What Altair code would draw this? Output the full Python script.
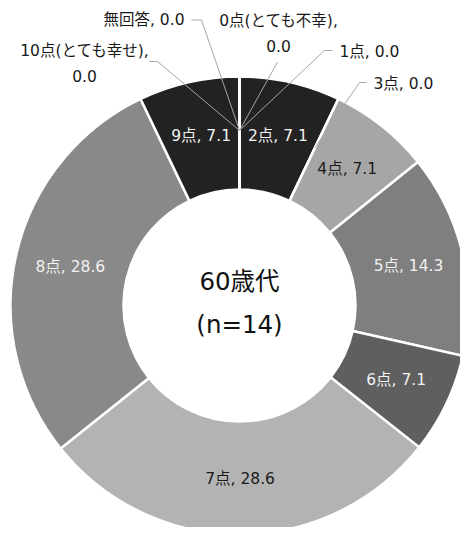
import math
import altair as alt
import pandas as pd

# ---- data ----
categories = ["0点(とても不幸)", "1点", "2点", "3点", "4点", "5点", "6点",
              "7点", "8点", "9点", "10点(とても幸せ)", "無回答"]
values = [0.0, 0.0, 7.1, 0.0, 7.1, 14.3, 7.1, 28.6, 28.6, 7.1, 0.0, 0.0]
colors = ["#262626", "#404040", "#222222", "#bfbfbf", "#a6a6a6", "#7f7f7f",
          "#5f5f5f", "#b3b3b3", "#898989", "#222222", "#404040", "#d9d9d9"]
label_colors = ["#1a1a1a", "#1a1a1a", "#f2f2f2", "#1a1a1a", "#1a1a1a", "#f2f2f2",
                "#f2f2f2", "#1a1a1a", "#f2f2f2", "#f2f2f2", "#1a1a1a", "#1a1a1a"]
center_title = "60歳代"
center_n = "(n=14)"

# ---- layout (pixel offsets from the donut centre, y up) ----
W, H = 452, 519
CX, CY = 231.5, 297.5
R_IN, R_OUT, R_LAB, R_ANCHOR = 116, 229, 173.5, 175
FONT = "'DejaVu Sans', 'Noto Sans CJK JP', sans-serif"
FS = 15.5

zero_layout = {
    "無回答": dict(elbow=(-38, 285.5), end=(-48, 285.5), text=(-55, 285.5), align="right", split=False),
    "0点(とても不幸)": dict(elbow=(38, 243.5), end=None, text=(39, 285), align="center", split=True),
    "1点": dict(elbow=(85, 255), end=(93, 255), text=(100, 254), align="left", split=False),
    "3点": dict(elbow=(120, 223), end=(127, 223), text=(134, 222), align="left", split=False),
    "10点(とても幸せ)": dict(elbow=(-82, 244), end=(-90, 244), text=(-155, 255), align="center", split=True),
}
LINE_GAP = 26

total = sum(values)
df = pd.DataFrame({"cat": categories, "value": values, "idx": range(len(categories))})

# angles (clockwise from 12 o'clock) derived from the stacked values
cum = 0.0
mids = []
for v in values:
    a0 = cum / total * 2 * math.pi
    cum += v
    a1 = cum / total * 2 * math.pi
    mids.append((a0 + a1) / 2)

inside_rows = []
for c, v, m, lc in zip(categories, values, mids, label_colors):
    if v > 0:
        inside_rows.append({"label": f"{c}, {v:.1f}", "x": R_LAB * math.sin(m),
                            "y": R_LAB * math.cos(m), "lc": lc})
inside = pd.DataFrame(inside_rows)

line_rows, text_rows = [], []
for c, v, m in zip(categories, values, mids):
    if c not in zero_layout:
        continue
    L = zero_layout[c]
    pts = [(R_ANCHOR * math.sin(m), R_ANCHOR * math.cos(m)), L["elbow"]]
    if L["end"]:
        pts.append(L["end"])
    for i, (px, py) in enumerate(pts):
        line_rows.append({"cat": c, "seq": i, "x": px, "y": py})
    tx, ty = L["text"]
    if L["split"]:
        text_rows.append({"label": f"{c},", "x": tx, "y": ty, "align": L["align"]})
        text_rows.append({"label": f"{v:.1f}", "x": tx, "y": ty - LINE_GAP, "align": L["align"]})
    else:
        text_rows.append({"label": f"{c}, {v:.1f}", "x": tx, "y": ty, "align": L["align"]})
lines = pd.DataFrame(line_rows)
outside = pd.DataFrame(text_rows)
center = pd.DataFrame({"label": [center_title, center_n], "x": [0, 0], "y": [22.5, -20.5]})

xs = alt.Scale(domain=[-CX, W - CX])
ys = alt.Scale(domain=[-(H - CY), CY])

arcs = alt.Chart(df).mark_arc(innerRadius=R_IN, outerRadius=R_OUT, stroke="white",
                              strokeWidth=2.5).encode(
    theta=alt.Theta("value:Q", stack=True),
    order=alt.Order("idx:Q"),
    color=alt.Color("cat:N", scale=alt.Scale(domain=categories, range=colors), legend=None),
    x=alt.XDatum(0, type="quantitative", scale=xs, axis=None),
    y=alt.YDatum(0, type="quantitative", scale=ys, axis=None),
)

inner_text = alt.Chart(inside).mark_text(font=FONT, fontSize=FS, baseline="middle").encode(
    x=alt.X("x:Q", scale=xs, axis=None),
    y=alt.Y("y:Q", scale=ys, axis=None),
    text="label:N",
    color=alt.Color("lc:N", scale=None),
)

leaders = alt.Chart(lines).mark_line(color="#a6a6a6", strokeWidth=1).encode(
    x=alt.X("x:Q", scale=xs, axis=None),
    y=alt.Y("y:Q", scale=ys, axis=None),
    detail="cat:N",
    order="seq:Q",
)

out_layers = []
for al in ["left", "center", "right"]:
    out_layers.append(
        alt.Chart(outside).transform_filter(alt.datum.align == al).mark_text(
            font=FONT, fontSize=FS, baseline="middle", align=al, color="#1a1a1a").encode(
            x=alt.X("x:Q", scale=xs, axis=None),
            y=alt.Y("y:Q", scale=ys, axis=None),
            text="label:N",
        )
    )

center_text = alt.Chart(center).mark_text(font=FONT, fontSize=24.5, baseline="middle",
                                          color="#111111").encode(
    x=alt.X("x:Q", scale=xs, axis=None),
    y=alt.Y("y:Q", scale=ys, axis=None),
    text="label:N",
)

chart = alt.layer(arcs, leaders, inner_text, *out_layers, center_text).properties(
    width=W, height=H, padding=0, autosize=alt.AutoSizeParams(type="none")
).configure_view(stroke=None)

chart.save("out.html", embed_options={"renderer": "svg", "actions": False})
